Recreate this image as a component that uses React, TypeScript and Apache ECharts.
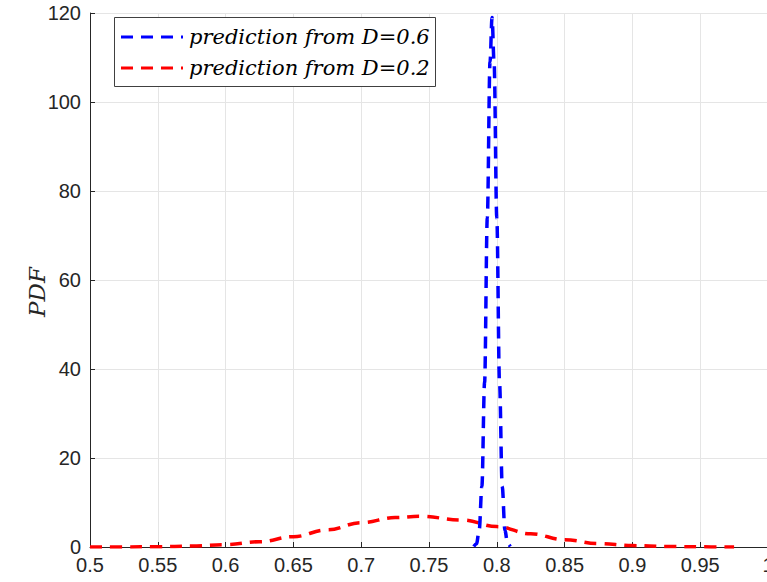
import React, { useEffect, useRef } from "react";
import * as echarts from "echarts";

// Narrow density: prediction from D = 0.6
const blueX = [0.783, 0.785, 0.787, 0.789, 0.791, 0.793, 0.795, 0.7965, 0.798, 0.8, 0.802, 0.804, 0.806, 0.808, 0.81];
const blueY = [0.1, 0.7, 3.7, 13.6, 37, 74, 109, 119, 109, 74, 37, 13.6, 3.7, 0.7, 0.1];

// Wide density: prediction from D = 0.2
const redX = [0.5, 0.525, 0.55, 0.575, 0.6, 0.625, 0.65, 0.675, 0.7, 0.725, 0.743, 0.775, 0.8, 0.825, 0.85, 0.875, 0.9, 0.925, 0.95, 0.975];
const redY = [0.004, 0.017, 0.063, 0.2, 0.52, 1.19, 2.32, 3.85, 5.47, 6.62, 6.9, 6.06, 4.58, 2.96, 1.63, 0.77, 0.31, 0.11, 0.031, 0.008];

const seriesNames = ["prediction from D=0.6", "prediction from D=0.2"];
const seriesColors = ["#0000ff", "#ff0000"];

const xMin = 0.5;
const xMax = 1;
const xStep = 0.05;
const yMin = 0;
const yMax = 120;
const yStep = 20;

const pairs = (xs: number[], ys: number[]) => xs.map((x, i) => [x, ys[i]]);

const dash = [12, 8];
const legendFont = {
  fontFamily: "DejaVu Serif",
  fontStyle: "italic",
  fontSize: 21,
};

export default function App() {
  const ref = useRef<HTMLDivElement>(null);

  useEffect(() => {
    if (!ref.current) return;
    const chart = echarts.init(ref.current, undefined, { renderer: "svg" });
    const axisText = "#262626";
    const gridColor = "#e5e5e5";

    // Boxed legend drawn in the upper-left corner of the axes
    const legendBox = { x: 114, y: 17, w: 321, h: 69 };
    const legendRows = [37, 68];
    const legendGraphics: any[] = [
      {
        type: "rect",
        shape: { x: legendBox.x + 0.5, y: legendBox.y + 0.5, width: legendBox.w, height: legendBox.h },
        style: { fill: "#ffffff", stroke: "#404040", lineWidth: 1 },
        z: 10,
      },
    ];
    seriesNames.forEach((name, i) => {
      legendGraphics.push({
        type: "line",
        shape: { x1: 121, y1: legendRows[i], x2: 183, y2: legendRows[i] },
        style: { stroke: seriesColors[i], lineWidth: 3, lineDash: dash },
        z: 11,
      });
      legendGraphics.push({
        type: "text",
        x: 189,
        y: legendRows[i],
        style: {
          text: name,
          ...legendFont,
          fill: "#000000",
          textAlign: "left",
          textVerticalAlign: "middle",
        },
        z: 11,
      });
    });

    chart.setOption({
      animation: false,
      backgroundColor: "#ffffff",
      grid: {
        left: 90,
        width: 678,
        top: 13,
        bottom: 35,
        containLabel: false,
        outerBoundsMode: "none",
      },
      graphic: [
        ...legendGraphics,
        {
          type: "text",
          x: 37,
          y: 292,
          rotation: Math.PI / 2,
          style: {
            text: "PDF",
            fontFamily: "DejaVu Serif",
            fontStyle: "italic",
            fontSize: 23,
            fill: axisText,
            textAlign: "center",
            textVerticalAlign: "middle",
          },
        },
      ],
      xAxis: {
        type: "value",
        min: xMin,
        max: xMax,
        interval: xStep,
        axisLine: { onZero: false, lineStyle: { color: axisText, width: 1 } },
        axisTick: { inside: true, length: 5, lineStyle: { color: axisText } },
        axisLabel: {
          color: axisText,
          fontFamily: "Liberation Sans",
          fontSize: 20,
          margin: 8,
          formatter: (v: number) => String(Number(v.toFixed(2))),
        },
        splitLine: { show: true, lineStyle: { color: gridColor, width: 1 } },
      },
      yAxis: {
        type: "value",
        min: yMin,
        max: yMax,
        interval: yStep,
        axisLine: { show: true, lineStyle: { color: axisText, width: 1 } },
        axisTick: { show: true, inside: true, length: 5, lineStyle: { color: axisText } },
        axisLabel: {
          color: axisText,
          fontFamily: "Liberation Sans",
          fontSize: 20,
          margin: 9,
        },
        splitLine: { show: true, lineStyle: { color: gridColor, width: 1 } },
      },
      series: [
        {
          name: seriesNames[0],
          type: "line",
          data: pairs(blueX, blueY),
          symbol: "none",
          smooth: 0.35,
          smoothMonotone: "x",
          lineStyle: { color: seriesColors[0], width: 3.5, type: dash },
          z: 3,
        },
        {
          name: seriesNames[1],
          type: "line",
          data: pairs(redX, redY),
          symbol: "none",
          smooth: 0.4,
          smoothMonotone: "x",
          lineStyle: { color: seriesColors[1], width: 3.5, type: dash },
          z: 2,
        },
      ],
    });
    return () => chart.dispose();
  }, []);

  return (
    <div
      ref={ref}
      style={{ position: "fixed", left: 0, top: 0, width: 768, height: 582, background: "#fff" }}
    />
  );
}
